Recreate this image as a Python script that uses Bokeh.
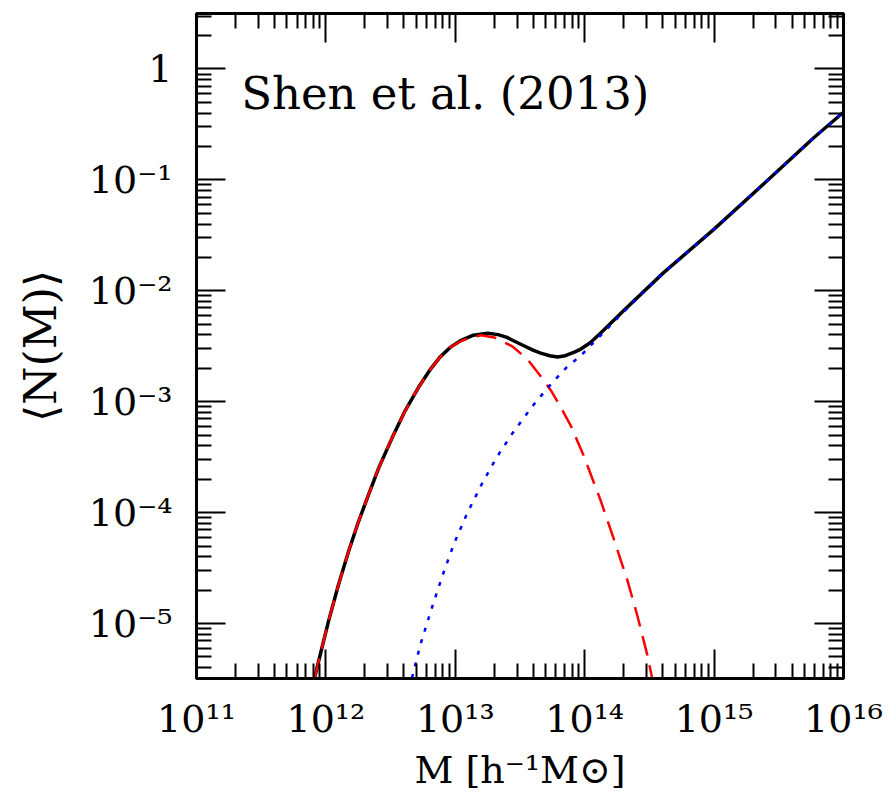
import numpy as np
from bokeh.plotting import figure
from bokeh.models import LogAxis, FixedTicker, CustomJSTickFormatter, Label, Range1d
from bokeh.embed import file_html
from bokeh.resources import INLINE

# ---- data (log10 of halo mass, log10 of <N(M)>) ----
# centrals (red dashed)
cen_logM = [11.912, 11.969, 12.020, 12.097, 12.175, 12.252, 12.329, 12.407, 12.510,
            12.613, 12.716, 12.80, 12.88, 12.96, 13.04, 13.10, 13.20, 13.30, 13.44,
            13.56, 13.66, 13.74, 13.81, 13.89, 13.99, 14.12, 14.22, 14.33, 14.405,
            14.483, 14.521]
cen_logN = [-5.49, -5.22, -4.98, -4.65, -4.35, -4.08, -3.84, -3.60, -3.33,
            -3.08, -2.87, -2.72, -2.60, -2.51, -2.455, -2.43, -2.40, -2.42, -2.50,
            -2.62, -2.77, -2.90, -3.04, -3.21, -3.48, -3.88, -4.22, -4.61, -4.92,
            -5.28, -5.49]

# satellites (blue dotted)
sat_logM = [12.665, 12.73, 12.81, 12.90, 12.99, 13.09, 13.21, 13.32, 13.45, 13.61,
            13.74, 13.86, 13.97, 14.30, 14.61, 15.00, 15.38, 15.77, 16.00]
sat_logN = [-5.49, -5.19, -4.89, -4.57, -4.28, -4.01, -3.73, -3.50, -3.27, -3.02,
            -2.84, -2.69, -2.585, -2.19, -1.836, -1.444, -1.04, -0.62, -0.39]

# total (black solid)
tot_logM = [11.912, 11.969, 12.020, 12.097, 12.175, 12.252, 12.329, 12.407, 12.510,
            12.613, 12.716, 12.80, 12.88, 12.96, 13.04, 13.14, 13.25, 13.33, 13.40,
            13.45, 13.53, 13.60, 13.66, 13.73, 13.79, 13.85, 13.92, 13.97, 14.04,
            14.12, 14.30, 14.61, 15.00, 15.38, 15.77, 16.00]
tot_logN = [-5.49, -5.22, -4.98, -4.65, -4.35, -4.08, -3.84, -3.60, -3.33,
            -3.08, -2.87, -2.72, -2.60, -2.51, -2.45, -2.40, -2.383, -2.395, -2.42,
            -2.45, -2.495, -2.535, -2.562, -2.585, -2.596, -2.585, -2.553, -2.525, -2.47,
            -2.385, -2.18, -1.836, -1.444, -1.04, -0.62, -0.39]

x_exps = [11, 12, 13, 14, 15, 16]
x_labels = ["10¹¹", "10¹²", "10¹³", "10¹⁴", "10¹⁵", "10¹⁶"]
y_exps = [-5, -4, -3, -2, -1, 0]
y_labels = ["10⁻⁵", "10⁻⁴", "10⁻³", "10⁻²", "10⁻¹", "1"]

x_title = "M [h⁻¹M⊙]"
y_title = "⟨N(M)⟩"
annotation = "Shen et al. (2013)"

FONT = "DejaVu Serif"

def pw(a):
    return list(np.power(10.0, np.asarray(a, dtype=float)))

x_major = pw(x_exps)
y_major = pw(y_exps)
x_minor = [k * 10.0 ** e for e in range(11, 16) for k in range(2, 10)]
y_minor = [k * 10.0 ** e for e in range(-6, 1) for k in range(2, 10)]

p = figure(width=894, height=804, x_axis_type="log", y_axis_type="log",
           x_range=Range1d(1e11, 1e16), y_range=Range1d(10 ** -5.495, 10 ** 0.5),
           output_backend="svg", toolbar_location=None,
           min_border_left=196, min_border_right=51, min_border_top=13,
           min_border_bottom=126)
p.grid.visible = False
p.outline_line_color = "black"
p.outline_line_width = 3
p.background_fill_color = "white"
p.border_fill_color = "white"

fmt_code = """
const e = Math.round(Math.log10(tick));
const i = exps.indexOf(e);
return i >= 0 ? labels[i] : "";
"""
fmt_x = CustomJSTickFormatter(args=dict(exps=x_exps, labels=x_labels), code=fmt_code)
fmt_y = CustomJSTickFormatter(args=dict(exps=y_exps, labels=y_labels), code=fmt_code)
fmt_blank = CustomJSTickFormatter(code="return '';")

def style_axis(ax, major, minor, fmt):
    ax.ticker = FixedTicker(ticks=major, minor_ticks=minor)
    ax.formatter = fmt
    ax.major_tick_in = 29
    ax.major_tick_out = 0
    ax.minor_tick_in = 15
    ax.minor_tick_out = 0
    ax.axis_line_width = 3
    ax.axis_line_color = "black"
    ax.major_tick_line_width = 2
    ax.minor_tick_line_width = 2
    ax.major_tick_line_color = "black"
    ax.minor_tick_line_color = "black"
    ax.major_label_text_font = FONT
    ax.major_label_text_font_size = "38px"
    ax.major_label_text_color = "black"
    ax.axis_label_text_font = FONT
    ax.axis_label_text_font_size = "38px"
    ax.axis_label_text_font_style = "normal"
    ax.axis_label_text_color = "black"

style_axis(p.xaxis[0], x_major, x_minor, fmt_x)
p.xaxis[0].major_label_standoff = 18
p.xaxis[0].axis_label = x_title
p.xaxis[0].axis_label_standoff = 4

style_axis(p.yaxis[0], y_major, y_minor, fmt_y)
p.yaxis[0].major_label_standoff = 24
p.yaxis[0].axis_label = y_title
p.yaxis[0].axis_label_text_font_size = "44px"
p.yaxis[0].axis_label_standoff = 20

top = LogAxis()
style_axis(top, x_major, x_minor, fmt_blank)
top.major_label_text_font_size = "0px"
top.major_label_standoff = 0
right = LogAxis()
style_axis(right, y_major, y_minor, fmt_blank)
right.major_label_text_font_size = "0px"
right.major_label_standoff = 0
p.add_layout(top, "above")
p.add_layout(right, "right")

p.line(pw(tot_logM), pw(tot_logN), line_color="black", line_width=3.5,
       line_join="round")
p.line(pw(cen_logM), pw(cen_logN), line_color="#ff0000", line_width=2.5,
       line_dash="20 10")
p.line(pw(sat_logM), pw(sat_logN), line_color="#0000ff", line_width=2.5,
       line_dash="4 8")

p.add_layout(Label(x=10 ** 11.345, y=10 ** -0.22, text=annotation,
                   text_font=FONT, text_font_size="45px", text_color="black",
                   text_baseline="alphabetic"))

open("out.html", "w").write(file_html(p, INLINE))
